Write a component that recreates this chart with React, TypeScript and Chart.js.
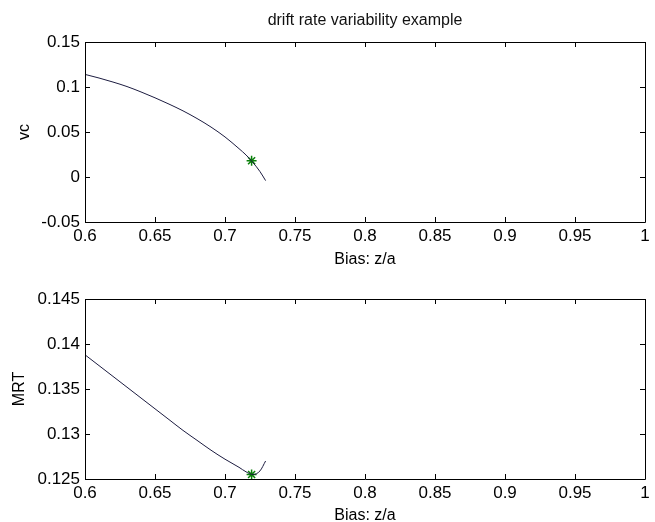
import React, { useEffect, useRef } from "react";
import { Chart, registerables } from "chart.js";
Chart.register(...registerables);

// ---- data ----
const biasX = [0.6, 0.61, 0.62, 0.63, 0.64, 0.65, 0.66, 0.67, 0.68, 0.69, 0.7, 0.71, 0.715, 0.72, 0.725, 0.729];
const vcValues = [0.114, 0.11, 0.1055, 0.1005, 0.0945, 0.088, 0.081, 0.0735, 0.065, 0.0555, 0.0445, 0.0315, 0.0245, 0.016, 0.006, -0.004];
const mrtValues = [0.1388, 0.1376, 0.1364, 0.1352, 0.134, 0.1328, 0.1316, 0.1304, 0.1293, 0.1282, 0.1272, 0.1263, 0.1258, 0.1255, 0.1259, 0.127];
const bestBias = [0.719];
const bestVc = [0.018];
const bestMrt = [0.1255];

const xTicks = [0.6, 0.65, 0.7, 0.75, 0.8, 0.85, 0.9, 0.95, 1];
const xTickLabels = ["0.6", "0.65", "0.7", "0.75", "0.8", "0.85", "0.9", "0.95", "1"];
const vcTicks = [-0.05, 0, 0.05, 0.1, 0.15];
const vcTickLabels = ["-0.05", "0", "0.05", "0.1", "0.15"];
const mrtTicks = [0.125, 0.13, 0.135, 0.14, 0.145];
const mrtTickLabels = ["0.125", "0.13", "0.135", "0.14", "0.145"];

const titleText = "drift rate variability example";
const xLabel = "Bias: z/a";

const FONT = '"Liberation Sans", Arial, Helvetica, sans-serif';

const boxPlugin = {
  id: "matlabBox",
  afterDraw(chart: any) {
    const { ctx, chartArea } = chart;
    const { left, right, top, bottom } = chartArea;
    const xs = chart.scales.x;
    const ys = chart.scales.y;
    const tl = 5;
    ctx.save();
    ctx.strokeStyle = "#000";
    ctx.lineWidth = 1;
    ctx.beginPath();
    ctx.rect(Math.round(left) + 0.5, Math.round(top) + 0.5, Math.round(right - left), Math.round(bottom - top));
    ctx.stroke();
    ctx.beginPath();
    xs.ticks.forEach((t: any) => {
      const px = Math.round(xs.getPixelForValue(t.value)) + 0.5;
      ctx.moveTo(px, bottom);
      ctx.lineTo(px, bottom - tl);
      ctx.moveTo(px, top);
      ctx.lineTo(px, top + tl);
    });
    ys.ticks.forEach((t: any) => {
      const py = Math.round(ys.getPixelForValue(t.value)) + 0.5;
      ctx.moveTo(left, py);
      ctx.lineTo(left + tl, py);
      ctx.moveTo(right, py);
      ctx.lineTo(right - tl, py);
    });
    ctx.stroke();
    ctx.restore();
  },
};

function makeConfig(opts: {
  values: number[];
  bestY: number[];
  yTicks: number[];
  yTickLabels: string[];
  yLabel: string;
  yLabelPad: number;
  showTitle: boolean;
  padTop: number;
  xHeight: number;
}): any {
  const lineData = biasX.map((x, i) => ({ x, y: opts.values[i] }));
  const starData = bestBias.map((x, i) => ({ x, y: opts.bestY[i] }));
  return {
    type: "line",
    data: {
      datasets: [
        {
          data: lineData,
          borderColor: "#1c1c40",
          borderWidth: 1,
          pointRadius: 0,
          cubicInterpolationMode: "monotone",
          fill: false,
        },
        {
          data: starData,
          showLine: false,
          pointStyle: "star",
          pointRadius: 5,
          pointBorderColor: "#0a800a",
          pointBorderWidth: 1.5,
          borderColor: "#0a800a",
        },
      ],
    },
    options: {
      animation: false,
      responsive: false,
      devicePixelRatio: 1,
      layout: { padding: { top: opts.showTitle ? 0 : opts.padTop, right: 10, left: 0, bottom: 0 } },
      plugins: {
        legend: { display: false },
        tooltip: { enabled: false },
        title: {
          display: opts.showTitle,
          text: titleText,
          fullSize: false,
          color: "#111",
          font: { family: FONT, size: 16, weight: "normal" },
          padding: { top: 11.4, bottom: 11.4 },
        },
      },
      scales: {
        x: {
          type: "linear",
          position: "bottom",
          min: 0.6,
          max: 1,
          afterBuildTicks: (s: any) => {
            s.ticks = xTicks.map((v) => ({ value: v }));
          },
          afterFit: (s: any) => {
            s.height = opts.xHeight;
          },
          grid: { display: false, drawTicks: false },
          border: { display: false },
          ticks: {
            autoSkip: false,
            maxRotation: 0,
            padding: 4,
            color: "#000",
            font: { family: FONT, size: 17 },
            callback: (_v: any, i: number) => xTickLabels[i],
          },
          title: {
            display: true,
            text: xLabel,
            color: "#000",
            font: { family: FONT, size: 16 },
            padding: { top: 0, bottom: 0 },
          },
        },
        y: {
          type: "linear",
          min: opts.yTicks[0],
          max: opts.yTicks[opts.yTicks.length - 1],
          afterBuildTicks: (s: any) => {
            s.ticks = opts.yTicks.map((v) => ({ value: v }));
          },
          afterFit: (s: any) => {
            s.width = 85;
          },
          grid: { display: false, drawTicks: false },
          border: { display: false },
          ticks: {
            autoSkip: false,
            padding: 5,
            color: "#000",
            font: { family: FONT, size: 17 },
            callback: (_v: any, i: number) => opts.yTickLabels[i],
          },
          title: {
            display: true,
            text: opts.yLabel,
            color: "#000",
            font: { family: FONT, size: 16 },
            padding: { top: opts.yLabelPad, bottom: 0 },
          },
        },
      },
    },
    plugins: [boxPlugin],
  };
}

export default function App() {
  const topRef = useRef<HTMLCanvasElement | null>(null);
  const botRef = useRef<HTMLCanvasElement | null>(null);

  useEffect(() => {
    const c1 = new Chart(
      topRef.current as HTMLCanvasElement,
      makeConfig({
        values: vcValues,
        bestY: bestVc,
        yTicks: vcTicks,
        yTickLabels: vcTickLabels,
        yLabel: "vc",
        yLabelPad: 15,
        showTitle: true,
        padTop: 0,
        xHeight: 47,
      })
    );
    const c2 = new Chart(
      botRef.current as HTMLCanvasElement,
      makeConfig({
        values: mrtValues,
        bestY: bestMrt,
        yTicks: mrtTicks,
        yTickLabels: mrtTickLabels,
        yLabel: "MRT",
        yLabelPad: 9.5,
        showTitle: false,
        padTop: 38,
        xHeight: 46,
      })
    );
    return () => {
      c1.destroy();
      c2.destroy();
    };
  }, []);

  return (
    <div style={{ position: "fixed", left: 0, top: 0, width: 655, height: 522, background: "#fff", overflow: "hidden" }}>
      <canvas ref={topRef} width={655} height={269} style={{ position: "absolute", left: 0, top: 0, width: 655, height: 269 }} />
      <canvas ref={botRef} width={655} height={264} style={{ position: "absolute", left: 0, top: 261, width: 655, height: 264 }} />
    </div>
  );
}
